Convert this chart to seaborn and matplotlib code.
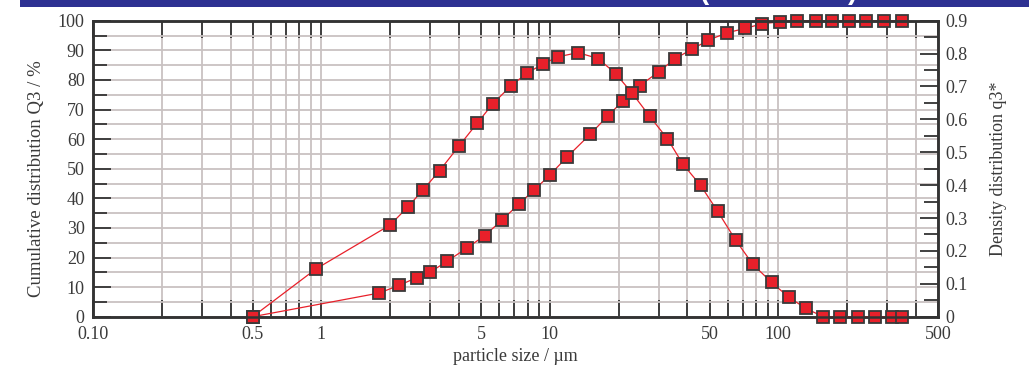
import matplotlib
matplotlib.use("Agg")
import matplotlib.pyplot as plt
from matplotlib.ticker import FixedLocator, FixedFormatter, NullFormatter
from matplotlib.patches import Rectangle
import seaborn as sns

# ---------------- data ----------------
cum_size = [0.5, 1.79, 2.19, 2.61, 3.0, 3.56, 4.35, 5.18, 6.17, 7.34,
            8.54, 10.0, 11.9, 15.0, 17.9, 20.9, 24.7, 29.9, 35.4, 41.7,
            49.4, 59.4, 71.7, 85.1, 101.3, 120.6, 145.6, 172.2, 203.5, 242.5,
            291.5, 348.5]
cum_vals = [0, 8.0, 10.6, 13.2, 15.1, 18.8, 23.3, 27.4, 32.6, 38.2,
            42.8, 47.9, 54.0, 61.6, 67.8, 72.9, 78.0, 82.7, 87.2, 90.3,
            93.4, 95.9, 97.4, 99.0, 99.6, 100, 100, 100, 100, 100,
            100, 100]

dens_size = [0.5, 0.945, 2.0, 2.39, 2.78, 3.29, 3.99, 4.80, 5.62, 6.75,
             7.93, 9.29, 10.84, 13.26, 16.27, 19.4, 22.9, 27.3, 32.7, 38.3,
             45.7, 54.3, 65.0, 77.4, 93.5, 111.3, 132.0, 157.3, 185.9, 222.8,
             265.6, 316.0, 348.5]
dens_vals = [0, 0.145, 0.279, 0.334, 0.385, 0.444, 0.518, 0.588, 0.647, 0.702,
             0.740, 0.768, 0.790, 0.803, 0.785, 0.739, 0.680, 0.610, 0.541, 0.463,
             0.399, 0.320, 0.233, 0.159, 0.104, 0.059, 0.025, 0, 0, 0,
             0, 0, 0]

x_major = [0.1, 0.5, 1, 5, 10, 50, 100, 500]
x_labels = ["0.10", "0.5", "1", "5", "10", "50", "100", "500"]
x_minor = [m * d for d in (0.1, 1, 10, 100) for m in range(2, 10) if m * d < 500]

left_major = [0, 10, 20, 30, 40, 50, 60, 70, 80, 90, 100]
left_labels = ["0", "10", "20", "30", "40", "50", "60", "70", "80", "90", "100"]
left_minor = [5, 15, 25, 35, 45, 55, 65, 75, 85, 95]

right_major = [0, 0.1, 0.2, 0.3, 0.4, 0.5, 0.6, 0.7, 0.8, 0.9]
right_labels = ["0", "0.1", "0.2", "0.3", "0.4", "0.5", "0.6", "0.7", "0.8", "0.9"]
right_minor = [0.05, 0.15, 0.25, 0.35, 0.45, 0.55, 0.65, 0.75, 0.85]

xlabel = "particle size / µm"
ylabel_left = "Cumulative distribution Q3 / %"
ylabel_right = "Density distribution q3*"

# ---------------- style ----------------
sns.set_style("white")
plt.rcParams["font.family"] = ["Liberation Serif", "DejaVu Serif"]

RED = "#e8202a"
EDGE = "#3a3a3a"
SPINE = "#333333"
GRID = "#c9c2c2"
TXT = "#3a3a3a"
FS = 13

fig = plt.figure(figsize=(10.29, 3.69), dpi=100)
fig.patch.set_facecolor("white")
ax = fig.add_axes([93 / 1029, 1 - 316.7 / 369, (938 - 93) / 1029, (316.7 - 20.7) / 369])
ax.set_xscale("log")
ax.set_xlim(0.1, 500)
ax.set_ylim(0, 100)
ax2 = ax.twinx()
ax2.set_ylim(0, 0.9)

# grid (left axis)
ax.xaxis.set_major_locator(FixedLocator(x_major))
ax.xaxis.set_major_formatter(FixedFormatter(x_labels))
ax.xaxis.set_minor_locator(FixedLocator(x_minor))
ax.xaxis.set_minor_formatter(NullFormatter())
ax.yaxis.set_major_locator(FixedLocator(left_major))
ax.yaxis.set_major_formatter(FixedFormatter(left_labels))
ax.yaxis.set_minor_locator(FixedLocator(left_minor))
ax.grid(True, which="both", color=GRID, linewidth=1.3)
ax.set_axisbelow(True)

ax2.yaxis.set_major_locator(FixedLocator(right_major))
ax2.yaxis.set_major_formatter(FixedFormatter(right_labels))
ax2.yaxis.set_minor_locator(FixedLocator(right_minor))
ax2.grid(False)

# data
line_kw = dict(marker="s", color=RED, markersize=8, markerfacecolor=RED,
               markeredgecolor=EDGE, markeredgewidth=1.3, linewidth=0.9,
               clip_on=False)
sns.lineplot(x=cum_size, y=cum_vals, ax=ax, **line_kw)
sns.lineplot(x=dens_size, y=dens_vals, ax=ax2, **line_kw)

# ticks
ax.tick_params(axis="x", which="both", direction="in", top=True, bottom=True,
               length=12, width=1.3, color=SPINE, labelsize=FS, labelcolor=TXT, pad=7)
ax.tick_params(axis="y", which="major", direction="in", left=True, right=False,
               length=13, width=1.3, color=SPINE, labelsize=FS, labelcolor=TXT, pad=6)
ax.tick_params(axis="y", which="minor", direction="in", left=True, right=False,
               length=10, width=1.3, color=SPINE)
ax2.tick_params(axis="y", which="major", direction="in", right=True, left=False,
                length=13, width=1.3, color=SPINE, labelsize=FS, labelcolor=TXT, pad=5)
ax2.tick_params(axis="y", which="minor", direction="in", right=True, left=False,
                length=10, width=1.3, color=SPINE)

for a in (ax, ax2):
    for s in a.spines.values():
        s.set_color(SPINE)
        s.set_linewidth(1.8)

ax.set_xlabel(xlabel, fontsize=FS, color=TXT, labelpad=3)
ax.set_ylabel(ylabel_left, fontsize=13.5, color=TXT)
ax.yaxis.set_label_coords((45 - 93) / 845, (316.7 - 179) / 296)
ax2.set_ylabel(ylabel_right, fontsize=FS, color=TXT, rotation=90, labelpad=16)

# top banner
fig.patches.append(Rectangle((20 / 1029, 1 - 7 / 369), 1, 7 / 369,
                             transform=fig.transFigure, facecolor="#2e3192",
                             edgecolor="none", zorder=0))
fig.text(704 / 1029, 1 + 1 / 369, "(", color="white", fontsize=20, fontweight="bold",
         family="Liberation Sans", ha="center", va="baseline")
fig.text(853 / 1029, 1 + 1 / 369, ")", color="white", fontsize=20, fontweight="bold",
         family="Liberation Sans", ha="center", va="baseline")

fig.savefig("out.png", dpi=100, facecolor="white")
